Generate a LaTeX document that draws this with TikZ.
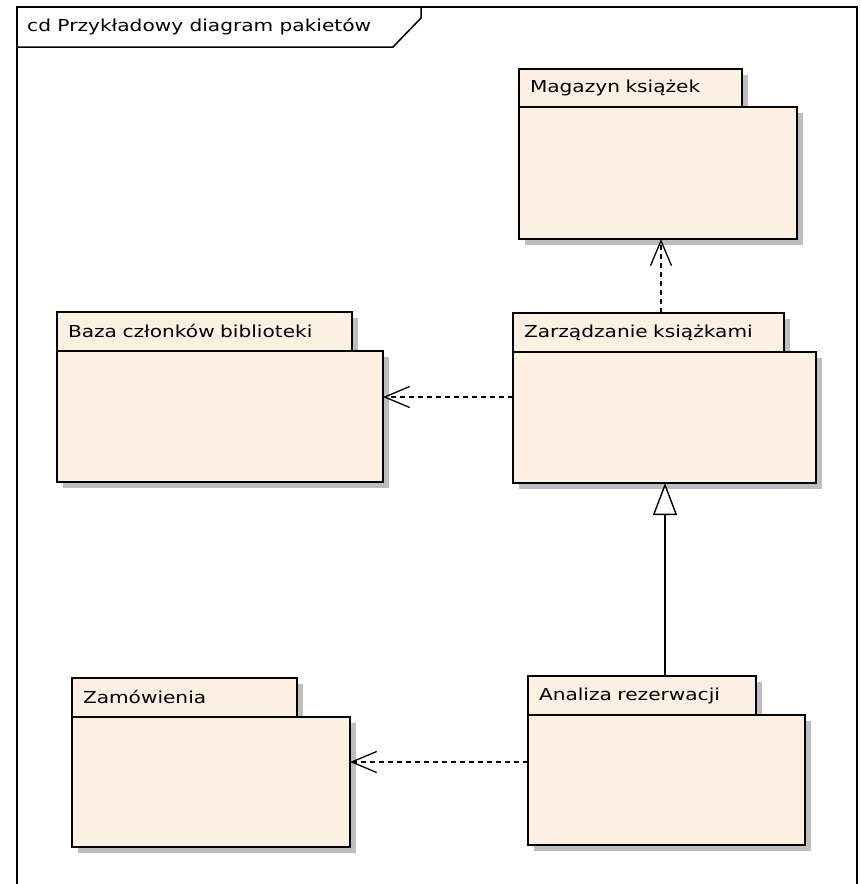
\documentclass[tikz,border=0pt]{standalone}
\usepackage{fontspec}
\setmainfont{DejaVu Sans}[FakeStretch=1.22]
\usetikzlibrary{arrows.meta,positioning,shadows}

\definecolor{pkgfill}{RGB}{251,240,226}
\definecolor{pkgshadow}{RGB}{190,190,190}

\begin{document}
\begin{tikzpicture}[x=1pt, y=-1pt,
    pkgtab/.style={draw, line width=1.6pt, fill=pkgfill, anchor=north west,
        outer sep=0pt, inner xsep=11pt, inner ysep=0pt, align=left,
        font=\fontsize{16.5}{19}\selectfont,
        drop shadow={shadow xshift=6pt, shadow yshift=-6pt, fill=pkgshadow, opacity=1}},
    pkgbody/.style={draw, line width=1.6pt, fill=pkgfill, anchor=north west,
        outer sep=0pt, inner sep=0pt,
        drop shadow={shadow xshift=6pt, shadow yshift=-6pt, fill=pkgshadow, opacity=1}},
    dep/.style={line width=1.3pt, dash pattern=on 5pt off 4pt,
        -{Straight Barb[length=25pt, width=21pt, line width=1.3pt]}},
    gen/.style={line width=1.4pt, -{Triangle[open, length=32pt, width=24pt, fill=white]}}
]
    \fill[white] (0,0) rectangle (860,884);
    \useasboundingbox (0,0) rectangle (860,884);

    % Frame
    \draw[line width=1.5pt] (17,890) -- (17,7) -- (857,7) -- (857,890);
    \draw[line width=1.5pt] (17,47) -- (393,47) -- (421,18) -- (421,7);
    \node[anchor=west, inner sep=0pt, font=\fontsize{16.5}{19}\selectfont] (title) at (27,27) {cd Przykładowy diagram pakietów};

    % Magazyn
    \node[pkgtab, text width=201pt, minimum height=38pt] (mt) at (519,69) {Magazyn książek};
    \node[pkgbody, minimum width=278pt, minimum height=132pt] (mb) at (mt.south west) {};

    % Baza
    \node[pkgtab, text width=273pt, minimum height=39pt] (bt) at (57,312) {Baza członków biblioteki};
    \node[pkgbody, minimum width=326pt, minimum height=131pt] (bb) at (bt.south west) {};

    % Zarzadzanie
    \node[pkgtab, text width=249pt, minimum height=39pt] (zt) at (513,313) {Zarządzanie książkami};
    \node[pkgbody, minimum width=303pt, minimum height=131pt] (zb) at (zt.south west) {};

    % Zamowienia
    \node[pkgtab, text width=203pt, minimum height=39pt] (wt) at (72,678) {Zamówienia};
    \node[pkgbody, minimum width=278pt, minimum height=130pt] (wb) at (wt.south west) {};

    % Analiza
    \node[pkgtab, text width=206pt, minimum height=39pt] (at) at (528,676) {Analiza rezerwacji};
    \node[pkgbody, minimum width=277pt, minimum height=130pt] (ab) at (at.south west) {};

    % Dependencies
    \coordinate (zl) at ([yshift=20.5pt]zb.west);
    \draw[dep] (zl) -- (zl -| bb.east);
    \coordinate (zu) at ([xshift=12.5pt]zt.north);
    \draw[dep] (zu) -- (zu |- mb.south);
    \coordinate (al) at ([yshift=18pt]ab.west);
    \draw[dep] (al) -- (al -| wb.east);

    % Generalization
    \coordinate (au) at ([xshift=23pt]at.north);
    \draw[gen] (au) -- (au |- zb.south);
\end{tikzpicture}
\end{document}
